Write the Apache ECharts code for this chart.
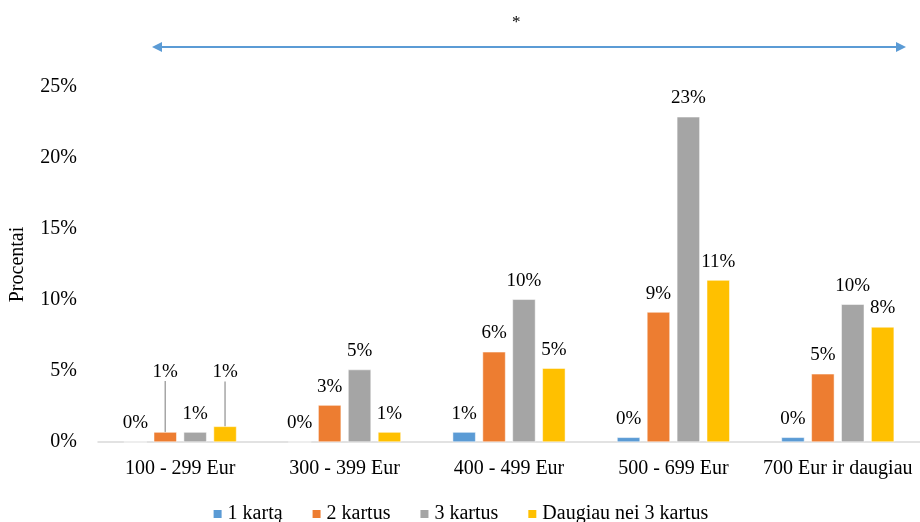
<!DOCTYPE html>
<html>
<head>
<meta charset="utf-8">
<script src="https://cdn.jsdelivr.net/npm/echarts@6/dist/echarts.min.js"></script>
<style>
  html, body { margin: 0; padding: 0; background: #fff; }
  #chart { width: 920px; height: 522px; }
</style>
</head>
<body>
<div id="chart"></div>
<script>
const categories = ['100 - 299 Eur', '300 - 399 Eur', '400 - 499 Eur', '500 - 699 Eur', '700 Eur ir daugiau'];
const seriesNames = ['1 kartą', '2 kartus', '3 kartus', 'Daugiau nei 3 kartus'];
const once = [0, 0, 0.7, 0.33, 0.33];
const twice = [0.7, 2.6, 6.35, 9.15, 4.8];
const thrice = [0.7, 5.1, 10.05, 22.9, 9.7];
const more = [1.1, 0.7, 5.2, 11.4, 8.1];
const yTicks = [0, 5, 10, 15, 20, 25];

const colors = ['#5b9bd5', '#ed7d31', '#a5a5a5', '#ffc000'];
const font = 'Liberation Serif';

// labels that sit higher, pulled up with a leader line (series, category) -> dy
const liftedLabels = { '1-0': -42, '3-0': -36 };

const chart = echarts.init(document.getElementById('chart'));

const makeSeries = (name, values, idx) => ({
  name: name,
  type: 'bar',
  barWidth: 23,
  barGap: '30%',
  itemStyle: { color: colors[idx], borderColor: '#fff', borderWidth: 0.5 },
  label: {
    show: true,
    position: 'top',
    distance: 9,
    color: '#000',
    fontFamily: font,
    fontSize: 19,
    formatter: p => Math.round(p.value) + '%'
  },
  labelLine: { show: false, lineStyle: { color: '#a6a6a6', width: 1.5 } },
  labelLayout: p => {
    const dy = liftedLabels[idx + '-' + p.dataIndex];
    return dy ? { dy: dy } : {};
  },
  data: values.map((v, i) => liftedLabels[idx + '-' + i]
    ? { value: v, labelLine: { show: true } }
    : v)
});

const option = {
  animation: false,
  color: colors,
  textStyle: { fontFamily: font },
  grid: { left: 97, right: 0, top: 87, bottom: 80 },
  legend: {
    top: 499,
    left: 'center',
    icon: 'rect',
    itemWidth: 10,
    itemHeight: 10,
    itemGap: 28,
    textStyle: { fontFamily: font, fontSize: 20, color: '#000' },
    data: seriesNames
  },
  xAxis: {
    type: 'category',
    data: categories,
    axisLine: { lineStyle: { color: '#d9d9d9', width: 1.5 } },
    axisTick: { show: false },
    axisLabel: { color: '#000', fontFamily: font, fontSize: 20, margin: 17, interval: 0 }
  },
  yAxis: {
    type: 'value',
    min: yTicks[0],
    max: yTicks[yTicks.length - 1],
    interval: 5,
    name: 'Procentai',
    nameLocation: 'middle',
    nameRotate: 90,
    nameGap: 70,
    nameTextStyle: { color: '#000', fontFamily: font, fontSize: 20 },
    axisLine: { show: false },
    axisTick: { show: false },
    splitLine: { show: false },
    axisLabel: { color: '#000', fontFamily: font, fontSize: 20, margin: 21, formatter: '{value}%' }
  },
  graphic: [
    { type: 'text', left: 512, top: 14, style: { text: '*', fontSize: 17, fontFamily: font, fill: '#000' } },
    { type: 'line', shape: { x1: 160, y1: 47, x2: 898, y2: 47 }, style: { stroke: '#5b9bd5', lineWidth: 2 } },
    { type: 'polygon', shape: { points: [[152, 47], [162, 42], [162, 52]] }, style: { fill: '#5b9bd5' } },
    { type: 'polygon', shape: { points: [[906, 47], [896, 42], [896, 52]] }, style: { fill: '#5b9bd5' } }
  ],
  series: [
    makeSeries(seriesNames[0], once, 0),
    makeSeries(seriesNames[1], twice, 1),
    makeSeries(seriesNames[2], thrice, 2),
    makeSeries(seriesNames[3], more, 3)
  ]
};

chart.setOption(option);
</script>
</body>
</html>
